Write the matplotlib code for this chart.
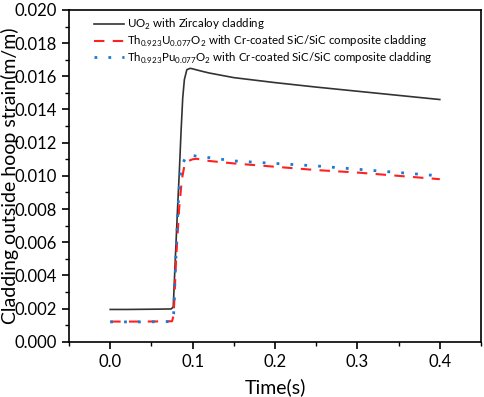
import matplotlib
matplotlib.use('Agg')
import matplotlib.pyplot as plt
from matplotlib.ticker import MultipleLocator

plt.rcParams['font.family'] = ['Lato', 'DejaVu Sans']
plt.rcParams['mathtext.fontset'] = 'custom'
plt.rcParams['mathtext.rm'] = 'Lato'

# UO2 with Zircaloy cladding
t_uo2 = [0.0, 0.02, 0.04, 0.06, 0.074, 0.0765, 0.079, 0.0816, 0.084, 0.086, 0.088,
         0.09, 0.093, 0.097, 0.1, 0.11, 0.12, 0.15, 0.2, 0.25, 0.3, 0.35, 0.4]
s_uo2 = [0.00195, 0.00195, 0.00196, 0.00197, 0.00198, 0.0021, 0.0050, 0.0079, 0.0104,
         0.0127, 0.0147, 0.0158, 0.0164, 0.01648, 0.01645, 0.01632, 0.0162, 0.01592,
         0.01562, 0.01535, 0.0151, 0.01485, 0.0146]

# Th0.923U0.077O2 with Cr-coated SiC/SiC
t_thu = [0.0, 0.02, 0.04, 0.06, 0.075, 0.077, 0.08, 0.0836, 0.087, 0.09, 0.095,
         0.1, 0.105, 0.12, 0.15, 0.2, 0.25, 0.3, 0.35, 0.4]
s_thu = [0.00122, 0.00122, 0.00122, 0.00123, 0.00124, 0.0016, 0.0050, 0.0080,
         0.0098, 0.0106, 0.0109, 0.0110, 0.01103, 0.0109, 0.01075, 0.01055,
         0.01035, 0.0102, 0.0100, 0.0098]

# Th0.923Pu0.077O2 with Cr-coated SiC/SiC
t_thpu = [0.0, 0.02, 0.04, 0.06, 0.075, 0.077, 0.08, 0.083, 0.0855, 0.0885, 0.0915,
          0.0945, 0.1, 0.12, 0.15, 0.2, 0.25, 0.3, 0.35, 0.4]
s_thpu = [0.00120, 0.00120, 0.00120, 0.00121, 0.00122, 0.0017, 0.0055, 0.0088,
          0.0102, 0.0108, 0.0111, 0.01125, 0.01122, 0.0111, 0.0109, 0.01075,
          0.0106, 0.0104, 0.0102, 0.0100]

labels = ['UO$_2$ with Zircaloy cladding',
          'Th$_{0.923}$U$_{0.077}$O$_2$ with Cr-coated SiC/SiC composite cladding',
          'Th$_{0.923}$Pu$_{0.077}$O$_2$ with Cr-coated SiC/SiC composite cladding']

fig = plt.figure(figsize=(4.84, 3.97), dpi=100)
ax = fig.add_axes([0.1426, 0.139, 0.8512, 0.836])

ax.plot(t_uo2, s_uo2, color='#333333', lw=1.2, label=labels[0])
ax.plot(t_thu, s_thu, color='#ff2020', lw=1.5, dashes=(5, 4), label=labels[1])
ax.plot(t_thpu, s_thpu, color='#1a7ad6', lw=2.0, dashes=(1, 4), label=labels[2])

ax.set_xlim(-0.05, 0.45)
ax.set_ylim(0.0, 0.020)
ax.xaxis.set_major_locator(MultipleLocator(0.1))
ax.xaxis.set_minor_locator(MultipleLocator(0.05))
ax.yaxis.set_major_locator(MultipleLocator(0.002))
ax.yaxis.set_minor_locator(MultipleLocator(0.001))
ax.xaxis.set_major_formatter(plt.FuncFormatter(lambda v, p: f'{v:.1f}'))
ax.yaxis.set_major_formatter(plt.FuncFormatter(lambda v, p: f'{v:.3f}'))
ax.tick_params(which='major', direction='out', length=5, width=1.2, labelsize=12)
ax.tick_params(which='minor', direction='out', length=3, width=1.0)
for sp in ax.spines.values():
    sp.set_linewidth(1.2)

ax.set_xlabel('Time(s)', fontsize=14, labelpad=6)
ax.set_ylabel('Cladding outside hoop strain(m/m)', fontsize=14)
ax.yaxis.set_label_coords(-0.122, 0.5)

ax.legend(loc='upper left', frameon=False, fontsize=8.3, handlelength=2.6,
          handletextpad=0.25, borderaxespad=0.2, labelspacing=0.15,
          bbox_to_anchor=(0.045, 1.0))

fig.savefig('out.png', dpi=100)
